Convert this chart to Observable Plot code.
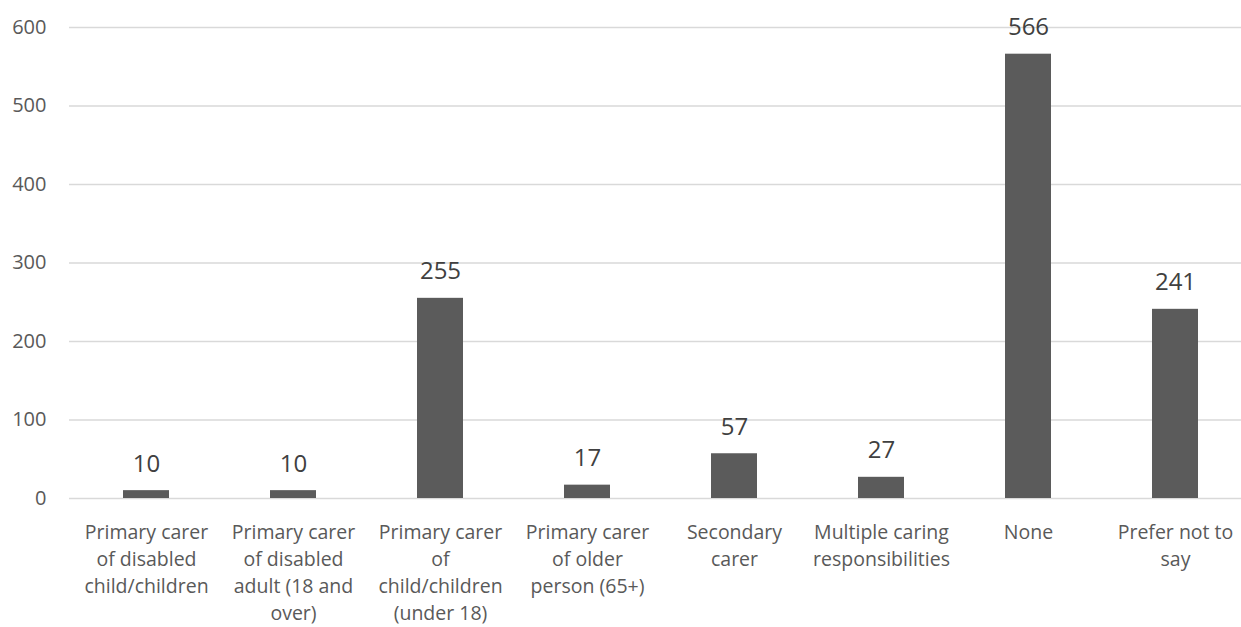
<!DOCTYPE html>
<html>
<head>
<meta charset="utf-8">
<script src="https://cdn.jsdelivr.net/npm/d3@7"></script>
<script src="https://cdn.jsdelivr.net/npm/@observablehq/plot@0.6"></script>
<style>
  html, body { margin: 0; padding: 0; background: #fff; }
  #chart svg { display: block; }
</style>
</head>
<body>
<div id="chart"></div>
<script>
// Caring responsibilities: number of respondents per category
const categories = [
  "Primary carer of disabled child/children",
  "Primary carer of disabled adult (18 and over)",
  "Primary carer of child/children (under 18)",
  "Primary carer of older person (65+)",
  "Secondary carer",
  "Multiple caring responsibilities",
  "None",
  "Prefer not to say"
];
const counts = [10, 10, 255, 17, 57, 27, 566, 241];
// Wrapped axis labels, one per category
const tickLabels = [
  "Primary carer\nof disabled\nchild/children",
  "Primary carer\nof disabled\nadult (18 and\nover)",
  "Primary carer\nof\nchild/children\n(under 18)",
  "Primary carer\nof older\nperson (65+)",
  "Secondary\ncarer",
  "Multiple caring\nresponsibilities",
  "None",
  "Prefer not to\nsay"
];
const yTicks = [0, 100, 200, 300, 400, 500, 600];

const rows = categories.map((c, i) => ({category: c, count: counts[i]}));
const labelOf = new Map(categories.map((c, i) => [c, tickLabels[i]]));

const ink = "#595959";
const font = "'Open Sans', sans-serif";

const chart = Plot.plot({
  width: 1241,
  height: 627,
  marginLeft: 69,
  marginRight: 0,
  marginTop: 27,
  marginBottom: 129,
  style: {fontFamily: font, color: ink, background: "#fff", overflow: "hidden"},
  // category bands run slightly past the right edge, as in the source layout
  x: {domain: categories, range: [69, 1251], paddingInner: 0.689, paddingOuter: 0.3445, align: 0.5},
  y: {domain: [0, 600]},
  marks: [
    Plot.gridY(yTicks, {stroke: "#d9d9d9", strokeOpacity: 1, strokeWidth: 1.3}),
    Plot.axisY({
      ticks: yTicks, tickSize: 0, tickPadding: 23, label: null,
      fontSize: 20, fill: ink
    }),
    Plot.axisX({
      tickSize: 0, tickPadding: 21, label: null, fontSize: 19.5, fill: ink,
      lineHeight: 1.39, tickFormat: (d) => labelOf.get(d)
    }),
    Plot.barY(rows, {x: "category", y: "count", fill: "#5b5b5b"}),
    Plot.text(rows, {
      x: "category", y: "count", text: (d) => String(d.count),
      lineAnchor: "bottom", dy: -19, fontSize: 24, fill: "#404040"
    })
  ]
});

document.getElementById("chart").append(chart);
</script>
</body>
</html>
